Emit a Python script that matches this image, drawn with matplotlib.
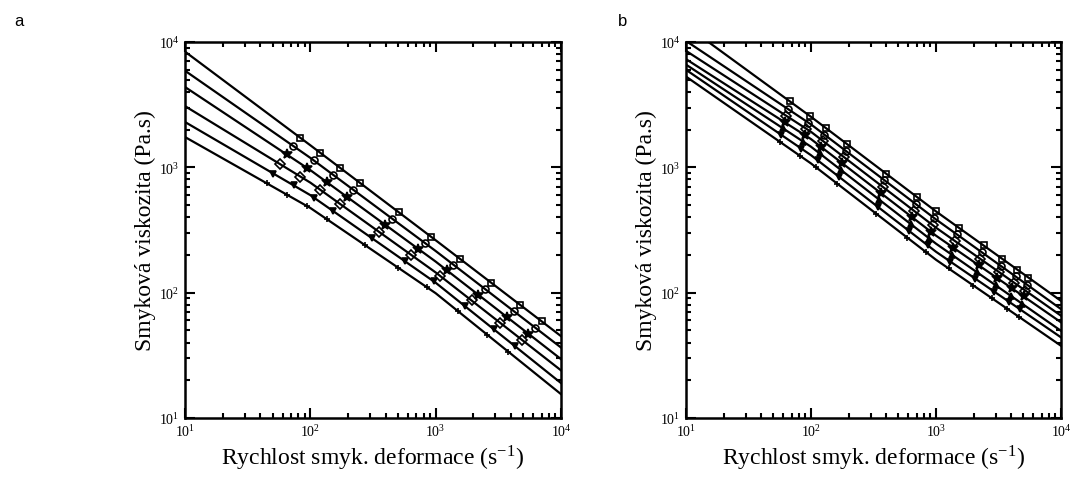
import numpy as np
import matplotlib
matplotlib.use("Agg")
import matplotlib.pyplot as plt
from matplotlib.ticker import LogLocator, NullFormatter

plt.rcParams['font.family'] = ['Liberation Serif', 'DejaVu Serif']
plt.rcParams['mathtext.fontset'] = 'stix'

# ---------------- Panel a ----------------
# fitted curves: value at shear rate 10, 100, 1000, 10000
line_x = [10, 100, 1000, 10000]
a_lines = [
    [8380, 1500, 262, 45.0],
    [5900, 1190, 215, 36.5],
    [4375, 950, 177, 29.5],
    [3080, 755, 145, 24.0],
    [2300, 600, 120, 19.0],
    [1745, 474, 99, 15.5],
]
a_x = [
    [82.8, 120, 173, 250, 507, 923, 1567, 2786, 4732, 6998],
    [73.3, 106, 153, 221, 449, 817, 1387, 2466, 4188, 6194],
    [64.9, 94.0, 136, 196, 397, 723, 1227, 2183, 3707, 5483],
    [57.4, 83.2, 120, 173, 352, 640, 1086, 1932, 3281, 4853],
    [50.8, 73.6, 106, 153, 311, 566, 962, 1710, 2904, 4295],
    [45.0, 65.2, 94.2, 136, 275, 501, 851, 1514, 2570, 3802],
]
a_y = [
    [1726, 1306, 989, 748, 438, 279, 186, 120, 79.8, 59.2],
    [1479, 1140, 867, 659, 390, 249, 167, 107, 71.3, 52.7],
    [1268, 991, 760, 582, 348, 224, 151, 96.4, 63.8, 47.1],
    [1059, 845, 662, 509, 307, 200, 136, 86.7, 57.3, 42.2],
    [891, 718, 574, 445, 271, 179, 123, 78.2, 51.2, 37.4],
    [745, 604, 491, 385, 238, 158, 111, 71.0, 46.3, 33.8],
]
a_markers = ['s', 'o', '*', 'D', 'v', '+']

# ---------------- Panel b ----------------
b_lines = [
    [13500, 2530, 445, 86.0],
    [10200, 2200, 384, 74.0],
    [8500, 1920, 330, 65.5],
    [7300, 1680, 285, 58.0],
    [6600, 1460, 246, 49.6],
    [6000, 1250, 212, 44.0],
    [5300, 1074, 183, 37.7],
]
b_x = [
    [67.6, 97.7, 131.8, 195, 398, 708, 1000, 1514, 2399, 3388, 4467, 5495],
    [65.6, 94.8, 128, 189, 386, 687, 971, 1469, 2328, 3289, 4335, 5333],
    [63.5, 91.8, 124, 183, 374, 665, 940, 1422, 2254, 3184, 4198, 5164],
    [61.7, 89.1, 120, 178, 363, 646, 912, 1380, 2188, 3090, 4074, 5012],
    [59.8, 86.5, 117, 173, 352, 627, 885, 1340, 2123, 3000, 3954, 4864],
    [57.9, 83.8, 113, 167, 341, 607, 857, 1297, 2056, 2904, 3828, 4710],
    [56.0, 81.0, 110, 162, 331, 589, 832, 1259, 1995, 2818, 3715, 4571],
]
b_y = [
    [3365, 2570, 2050, 1528, 891, 577, 445, 330, 238, 186, 153, 132],
    [2911, 2275, 1824, 1355, 789, 510, 393, 292, 210, 164, 135, 116],
    [2570, 2028, 1629, 1208, 700, 451, 347, 258, 187, 146, 120, 104],
    [2286, 1807, 1456, 1076, 622, 399, 306, 228, 166, 131, 108, 93.5],
    [2042, 1603, 1294, 957, 551, 353, 270, 201, 146, 115, 94.4, 81.8],
    [1811, 1409, 1138, 841, 485, 311, 239, 177, 129, 102, 84.7, 73.5],
    [1600, 1239, 1000, 741, 428, 275, 211, 156, 114, 90, 74, 64],
]
b_markers = ['s', 'o', 'D', '*', '^', 'v', '+']

xlabel = r'Rychlost smyk. deformace (s$^{\mathdefault{-1}}$)'
ylabel = 'Smyková viskozita (Pa.s)'

W, H = 1075, 481
fig = plt.figure(figsize=(W / 100, H / 100), dpi=100)


def setup(ax):
    ax.set_xscale('log')
    ax.set_yscale('log')
    ax.set_xlim(10, 1e4)
    ax.set_ylim(10, 1e4)
    for s in ax.spines.values():
        s.set_linewidth(1.8)
    ax.xaxis.set_major_locator(LogLocator(base=10, numticks=10))
    ax.yaxis.set_major_locator(LogLocator(base=10, numticks=10))
    ax.xaxis.set_minor_locator(LogLocator(base=10, subs=np.arange(2, 10), numticks=10))
    ax.yaxis.set_minor_locator(LogLocator(base=10, subs=np.arange(2, 10), numticks=10))
    ax.xaxis.set_minor_formatter(NullFormatter())
    ax.yaxis.set_minor_formatter(NullFormatter())
    ax.tick_params(which='both', direction='in', top=True, right=True,
                   labelsize=10, width=1.5)
    ax.tick_params(which='major', length=7, pad=4)
    ax.tick_params(which='minor', length=3.5)
    ax.set_xlabel(xlabel, fontsize=17, labelpad=2)
    ax.set_ylabel(ylabel, fontsize=17, labelpad=2)


def draw(ax, lines, xs, ys, markers):
    for lv in lines:
        ax.plot(line_x, lv, color='black', lw=1.6, zorder=2)
    for x, y, m in zip(xs, ys, markers):
        filled = m in ('*', 'v', '^')
        ax.plot(x, y, linestyle='none', marker=m, ms=5 if m != '*' else 7,
                mfc='black' if filled else 'none', mec='black', mew=1.2,
                zorder=3)


axa = fig.add_axes([185 / W, 1 - 419 / H, 376 / W, 376 / H])
setup(axa)
draw(axa, a_lines, a_x, a_y, a_markers)

axb = fig.add_axes([686 / W, 1 - 419 / H, 375 / W, 376 / H])
setup(axb)
draw(axb, b_lines, b_x, b_y, b_markers)

fig.text(14 / W, 1 - 22 / H, 'a', fontsize=12, family='Liberation Sans', va='center')
fig.text(618 / W, 1 - 22 / H, 'b', fontsize=12, family='Liberation Sans', va='center')

fig.savefig('out.png', dpi=100)
